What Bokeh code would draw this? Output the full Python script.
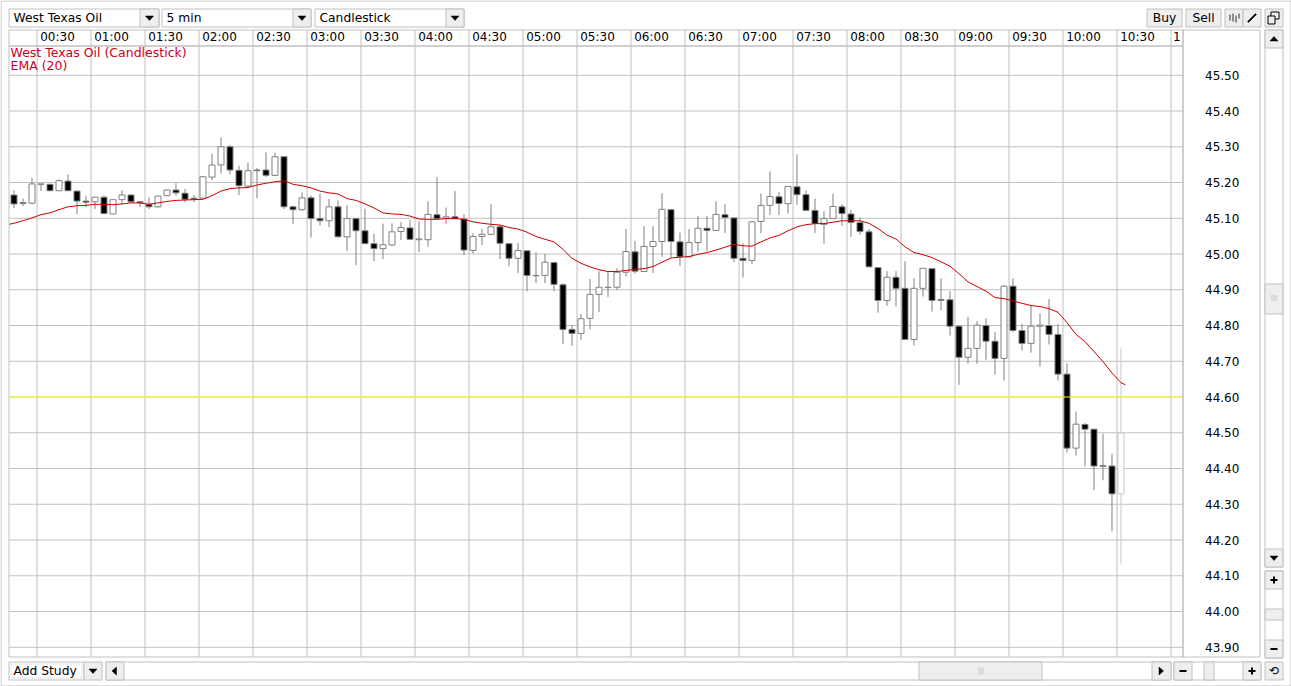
from bokeh.plotting import figure
from bokeh.embed import file_html
from bokeh.resources import INLINE
from bokeh.models import (BoxAnnotation, Label, PolyAnnotation, Range1d, LinearAxis, FixedTicker,
                          NumeralTickFormatter, ColumnDataSource)

opens = [45.165,45.144,45.142,45.195,45.195,45.177,45.204,45.176,45.148,45.146,45.159,45.112,45.152,45.165,45.146,45.139,45.132,45.163,45.179,45.170,45.156,45.156,45.215,45.249,45.300,45.234,45.190,45.235,45.235,45.220,45.272,45.132,45.124,45.157,45.099,45.093,45.132,45.048,45.099,45.065,45.029,45.015,45.025,
45.063,45.073,45.040,45.040,45.110,45.100,45.104,45.098,45.010,45.049,45.055,45.076,45.029,44.988,45.009,44.940,44.940,44.976,44.914,44.789,44.778,44.820,44.887,44.906,44.907,44.949,45.006,44.951,45.021,45.035,45.124,45.034,44.992,45.032,45.072,45.066,45.110,45.101,44.988,44.982,45.091,45.136,45.160,45.141,45.188,45.166,45.122,45.083,45.099,45.132,45.112,45.088,45.062,44.962,44.870,44.935,44.904,44.761,44.904,44.959,44.873,44.872,44.798,44.711,44.736,44.800,44.756,44.708,44.910,44.786,44.750,44.798,44.800,44.775,44.664,44.457,44.523,44.510,44.408,44.407,44.329]
closes = [45.140,45.141,45.196,45.196,45.177,45.205,45.177,45.148,45.145,45.159,45.113,45.152,45.165,45.146,45.143,45.132,45.162,45.179,45.171,45.153,45.153,45.216,45.249,45.300,45.235,45.191,45.233,45.233,45.220,45.272,45.132,45.124,45.157,45.099,45.093,45.132,45.048,45.099,45.065,45.029,45.015,45.026,45.062,
45.074,45.041,45.042,45.111,45.099,45.104,45.099,45.011,45.049,45.055,45.076,45.030,44.988,45.010,44.940,44.939,44.977,44.915,44.789,44.778,44.819,44.887,44.907,44.907,44.949,45.007,44.952,45.021,45.035,45.125,45.035,44.992,45.032,45.072,45.066,45.111,45.102,44.988,44.982,45.090,45.136,45.161,45.141,45.189,45.166,45.122,45.085,45.099,45.133,45.113,45.088,45.063,44.964,44.870,44.935,44.904,44.761,44.904,44.960,44.870,44.870,44.798,44.711,44.736,44.801,44.756,44.708,44.910,44.786,44.750,44.798,44.801,44.775,44.664,44.457,44.524,44.510,44.407,44.406,44.329,44.499]
highs = [45.178,45.155,45.213,45.196,45.196,45.209,45.222,45.176,45.163,45.159,45.163,45.153,45.178,45.166,45.146,45.158,45.163,45.180,45.198,45.182,45.165,45.218,45.280,45.326,45.305,45.247,45.255,45.241,45.284,45.283,45.274,45.135,45.172,45.163,45.169,45.154,45.150,45.136,45.101,45.127,45.057,45.085,45.086,
45.089,45.095,45.091,45.148,45.215,45.130,45.176,45.111,45.058,45.070,45.139,45.081,45.030,45.031,45.010,45.005,45.000,44.978,44.918,44.801,44.832,44.930,44.952,44.952,44.960,45.070,45.036,45.078,45.078,45.170,45.125,45.060,45.070,45.106,45.106,45.148,45.139,45.102,45.030,45.091,45.169,45.231,45.173,45.189,45.279,45.178,45.155,45.120,45.169,45.139,45.123,45.102,45.070,44.963,44.952,44.952,44.980,44.932,44.960,44.960,44.932,44.896,44.801,44.824,44.812,44.820,44.782,44.913,44.932,44.804,44.855,44.834,44.874,44.804,44.694,44.559,44.527,44.510,44.497,44.441,44.736]
lows = [45.128,45.134,45.140,45.176,45.176,45.176,45.176,45.112,45.131,45.126,45.112,45.112,45.139,45.145,45.131,45.126,45.129,45.163,45.163,45.145,45.145,45.155,45.206,45.225,45.223,45.165,45.185,45.156,45.215,45.218,45.126,45.084,45.121,45.046,45.080,45.075,45.046,45.008,44.969,45.028,44.980,44.986,45.023,
45.039,45.041,45.006,45.020,45.099,45.085,45.098,44.997,45.002,45.025,45.055,44.986,44.966,44.947,44.896,44.919,44.919,44.896,44.748,44.743,44.760,44.790,44.838,44.880,44.899,44.937,44.945,44.950,44.947,44.992,44.991,44.967,44.991,45.006,45.009,45.065,45.059,44.977,44.934,44.972,45.058,45.109,45.109,45.113,45.138,45.122,45.059,45.029,45.098,45.079,45.048,45.054,44.963,44.836,44.855,44.853,44.761,44.744,44.881,44.839,44.843,44.772,44.634,44.693,44.693,44.704,44.663,44.646,44.782,44.730,44.724,44.685,44.747,44.646,44.445,44.436,44.406,44.339,44.367,44.224,44.134]
ema = [45.083,45.086,45.093,45.101,45.110,45.115,45.124,45.132,45.135,45.136,45.139,45.139,45.138,45.140,45.143,45.143,45.139,45.143,45.147,45.150,45.151,45.152,45.153,45.163,45.176,45.183,45.185,45.186,45.193,45.198,45.202,45.205,45.195,45.191,45.185,45.176,45.171,45.168,45.155,45.150,45.140,45.129,45.115,45.112,
45.111,45.106,45.098,45.097,45.097,45.099,45.099,45.097,45.090,45.086,45.083,45.081,45.074,45.070,45.061,45.049,45.041,45.034,45.013,44.988,44.974,44.964,44.956,44.951,44.951,44.954,44.957,44.959,44.965,44.977,44.989,44.991,44.993,44.999,45.004,45.011,45.019,45.027,45.023,45.022,45.034,45.045,45.052,45.065,45.076,45.082,45.085,45.085,45.089,45.093,45.093,45.093,45.086,45.071,45.053,45.042,45.020,45.004,44.998,44.990,44.978,44.966,44.945,44.922,44.909,44.896,44.878,44.875,44.869,44.862,44.856,44.853,44.847,44.837,44.808,44.775,44.755,44.727,44.699,44.667,44.640]

time_labels = ["00:30","01:00","01:30","02:00","02:30","03:00","03:30","04:00","04:30","05:00","05:30",
               "06:00","06:30","07:00","07:30","08:00","08:30","09:00","09:30","10:00","10:30","1"]
time_minutes = [30+30*i for i in range(len(time_labels))]
price_ticks = [43.90,44.00,44.10,44.20,44.30,44.40,44.50,44.60,44.70,44.80,44.90,45.00,45.10,45.20,45.30,45.40,45.50]
last_price = 44.60

W, H = 1291, 686
GRID = "#c0c0c0"
BTN = "#eeeeee"
PX_PER_MIN = 1.8
PX_PER_PRICE = 357.5

# the Bokeh frame covers the whole canvas, with scales chosen so the chart area lands in place
def min_at(px):
    return 30 + (px - 36.5)/PX_PER_MIN
def price_at(py):
    return 43.9 + (646.75 - py)/PX_PER_PRICE

PLOT_L, PLOT_R = min_at(8.5), min_at(1182.5)
PLOT_T, PLOT_B = price_at(45.5), price_at(656.5)
HEADER_T = price_at(29.5)

bar_x = [17.222 + 5*i for i in range(len(opens))]
ema_x = [PLOT_L] + bar_x

p = figure(width=W, height=H, output_backend="svg", toolbar_location=None, tools="",
           x_axis_type=None, y_axis_type=None,
           x_range=Range1d(min_at(0), min_at(W)), y_range=Range1d(price_at(H), price_at(0)),
           min_border_left=0, min_border_right=0, min_border_top=0, min_border_bottom=0)
p.styles = {"position": "absolute", "left": "0px", "top": "0px"}
p.background_fill_color = "white"
p.border_fill_color = "white"
p.outline_line_color = None

offsets = [11.4]*(len(time_labels)-1) + [3.3]
label_pos = [t+o for t, o in zip(time_minutes, offsets)]
xa = LinearAxis(ticker=FixedTicker(ticks=label_pos), fixed_location=PLOT_T)
xa.major_label_overrides = {a: b for a, b in zip(label_pos, time_labels)}
xa.major_tick_line_color = None
xa.major_tick_out = 0
xa.minor_tick_line_color = None
xa.minor_tick_out = 0
xa.axis_line_color = None
xa.major_label_standoff = 2
xa.major_label_text_font = "DejaVu Sans"
xa.major_label_text_font_size = "12px"
xa.major_label_text_color = "black"
p.add_layout(xa, "above")

ya = LinearAxis(ticker=FixedTicker(ticks=price_ticks), formatter=NumeralTickFormatter(format="0.00"),
                fixed_location=PLOT_R)
ya.major_tick_line_color = None
ya.minor_tick_line_color = None
ya.axis_line_color = None
ya.major_label_standoff = 16
ya.major_label_text_font = "DejaVu Sans"
ya.major_label_text_font_size = "12px"
ya.major_label_text_color = "black"
p.add_layout(ya, "right")

# grid restricted to the chart area; vertical lines run on through the time header
p.segment(time_minutes, [PLOT_B]*len(time_minutes), time_minutes, [HEADER_T]*len(time_minutes),
          line_color=GRID, line_width=1)
p.segment([PLOT_L]*len(price_ticks), price_ticks, [PLOT_R]*len(price_ticks), price_ticks,
          line_color=GRID, line_width=1)

n = len(opens)
fills = ["white" if c >= o else "black" for o, c in zip(opens, closes)]
lines = ["#808080"]*(n-1) + ["#c8c8c8"]
src = ColumnDataSource(dict(x=bar_x, high=highs, low=lows,
                            top=[max(o, c) for o, c in zip(opens, closes)],
                            bottom=[min(o, c) for o, c in zip(opens, closes)],
                            fill=fills, line=lines))
p.segment("x", "high", "x", "low", source=src, line_color="line", line_width=1)
p.vbar("x", width=6/PX_PER_MIN, top="top", bottom="bottom", source=src,
       fill_color="fill", line_color="line", line_width=1)
p.segment([PLOT_L], [last_price], [PLOT_R], [last_price], line_color="#ffff00", line_width=1)
p.line(ema_x + [bar_x[-1]+2.5], ema + [44.634], line_color="#cc0000", line_width=1)

LV = "annotation"

def box(l, t, r, b, fill="white", line=GRID):
    p.add_layout(BoxAnnotation(left=l, right=r, top=t, bottom=b,
                               left_units="canvas", right_units="canvas",
                               top_units="canvas", bottom_units="canvas",
                               fill_color=fill, fill_alpha=1 if fill else 0,
                               line_color=line, line_alpha=1 if line else 0, line_width=1, level=LV))

def poly(xs, ys, fill="black"):
    p.add_layout(PolyAnnotation(xs=xs, ys=ys, xs_units="canvas", ys_units="canvas",
                                fill_color=fill, fill_alpha=1, line_color=fill, line_alpha=1, line_width=0.5,
                                level=LV))

def text(x, y, s, color="black", align="left", size="12.3px"):
    p.add_layout(Label(x=x, y=y, text=s, x_units="canvas", y_units="canvas",
                       text_font="DejaVu Sans", text_font_size=size, text_color=color,
                       text_align=align, text_baseline="middle", level=LV))

def tri_down(cx, cy):
    poly([cx-4, cx+4, cx], [cy-2, cy-2, cy+2.5])

def tri_up(cx, cy):
    poly([cx-4, cx+4, cx], [cy+2, cy+2, cy-2.5])

def tri_left(cx, cy):
    poly([cx+2, cx+2, cx-2.5], [cy-4, cy+4, cy])

def tri_right(cx, cy):
    poly([cx-2, cx-2, cx+2.5], [cy-4, cy+4, cy])

box(0.5, 0.5, 1290.5, 685.5, fill=None)
box(1182.5, 29.5, 1259.5, 656.5, fill=None)
box(8.5, 29.5, 1182.5, 45.5, fill=None)
box(8.5, 45.5, 1182.5, 656.5, fill=None)

for l, d, r, s in [(8.5, 139.5, 158.5, "West Texas Oil"),
                   (161.5, 292.5, 310.5, "5 min"),
                   (314.5, 445.5, 463.5, "Candlestick")]:
    box(l, 8.5, r, 26.5)
    box(d, 8.5, r, 26.5, fill=BTN)
    tri_down((d+r)/2, 17.5)
    text(l+4.5, 17.5, s)

box(1146.5, 8.5, 1181.5, 26.5, fill=BTN)
text(1164, 17.5, "Buy", align="center")
box(1185.5, 8.5, 1220.5, 26.5, fill=BTN)
text(1203, 17.5, "Sell", align="center")
box(1224.5, 8.5, 1242.5, 26.5, fill=BTN)
box(1242.5, 8.5, 1260.5, 26.5, fill=BTN)
for x0, t, b in [(1229, 14, 20), (1232, 13, 21), (1235, 15, 22), (1238, 13, 18)]:
    box(x0, t, x0+1, b, fill="#303030", line=None)
poly([1247, 1248, 1256, 1255], [21, 22, 14, 13])
box(1264.5, 8.5, 1282.5, 26.5, fill=BTN)
box(1270.5, 11.5, 1278.5, 18.5, fill=BTN, line="black")
box(1267.5, 15.5, 1274.5, 23.5, fill=BTN, line="black")

box(1264.5, 29.5, 1282.5, 566.5)
box(1264.5, 29.5, 1282.5, 47.5, fill=BTN)
tri_up(1273.5, 38.5)
box(1264.5, 548.5, 1282.5, 566.5, fill=BTN)
tri_down(1273.5, 557.5)
box(1264.5, 283.5, 1282.5, 313.5, fill=BTN)
for y0 in (295.5, 297.5, 299.5):
    box(1270, y0-0.5, 1277, y0+0.5, fill="#c8c8c8", line=None)

box(1264.5, 570.5, 1282.5, 657.5)
box(1264.5, 570.5, 1282.5, 588.5, fill=BTN)
box(1270, 578.5, 1277, 580.5, fill="black", line=None)
box(1272.5, 576, 1274.5, 583, fill="black", line=None)
box(1264.5, 608.5, 1282.5, 619.5, fill=BTN)
box(1264.5, 639.5, 1282.5, 657.5, fill=BTN)
box(1270, 647.5, 1277, 649.5, fill="black", line=None)

box(8.5, 661.5, 83.5, 679.5)
text(13, 670.5, "Add Study")
p.add_layout(BoxAnnotation(left=10.5, right=81.5, top=663.5, bottom=677.5, left_units="canvas", right_units="canvas",
                           top_units="canvas", bottom_units="canvas", fill_alpha=0, line_color="#606060",
                           line_dash="1 1", line_width=1, level=LV))
box(83.5, 661.5, 101.5, 679.5, fill=BTN)
tri_down(92.5, 670.5)
box(105.5, 661.5, 1170.5, 679.5)
box(105.5, 661.5, 123.5, 679.5, fill=BTN)
tri_left(114, 670.5)
box(1151.5, 661.5, 1170.5, 679.5, fill=BTN)
tri_right(1160.5, 670.5)
box(918.5, 661.5, 1041.5, 679.5, fill=BTN)
for x0 in (978.5, 980.5, 982.5):
    box(x0-0.5, 667, x0+0.5, 674, fill="#c8c8c8", line=None)
box(1173.5, 661.5, 1260.5, 679.5)
box(1173.5, 661.5, 1191.5, 679.5, fill=BTN)
box(1179, 669.5, 1186, 671.5, fill="black", line=None)
box(1203.5, 661.5, 1213.5, 679.5, fill=BTN)
box(1242.5, 661.5, 1260.5, 679.5, fill=BTN)
box(1248, 669.5, 1255, 671.5, fill="black", line=None)
box(1250.5, 667, 1252.5, 674, fill="black", line=None)
box(1264.5, 661.5, 1282.5, 679.5, fill=BTN)
text(1273.5, 670.5, "\u27f2", align="center")

text(10, 51.5, "West Texas Oil (Candlestick)", color="#cc0022", size="12.5px")
text(10, 64.5, "EMA (20)", color="#cc0022", size="12.5px")

open("out.html", "w").write(file_html(p, INLINE))
